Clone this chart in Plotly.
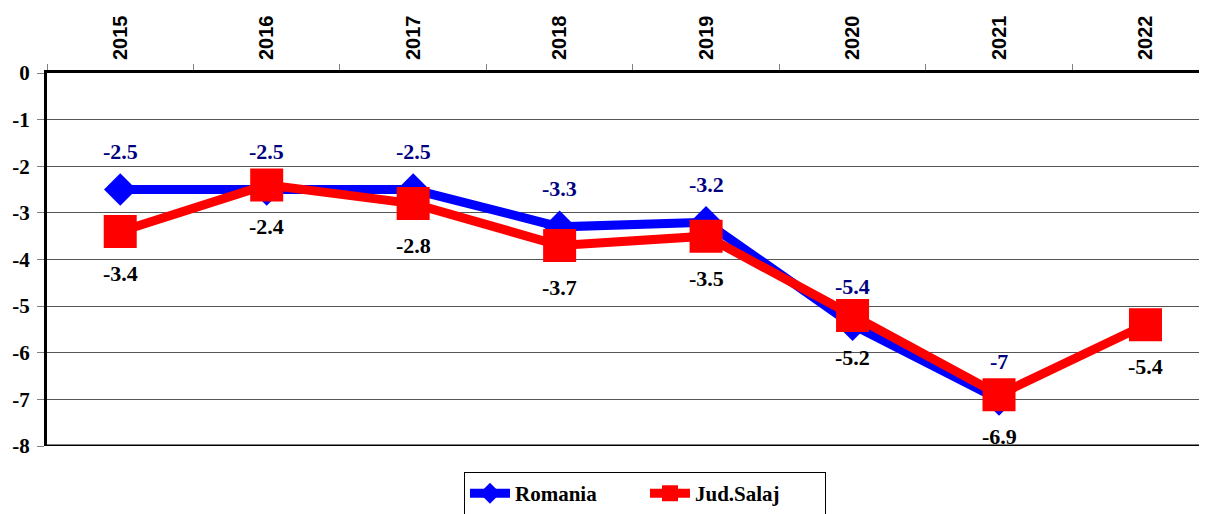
import plotly.graph_objects as go

years = ["2015", "2016", "2017", "2018", "2019", "2020", "2021", "2022"]
romania = [-2.5, -2.5, -2.5, -3.3, -3.2, -5.4, -7, None]
salaj = [-3.4, -2.4, -2.8, -3.7, -3.5, -5.2, -6.9, -5.4]
y_ticks = [0, -1, -2, -3, -4, -5, -6, -7, -8]

SERIF = "Times New Roman, Liberation Serif, serif"
SANS = "Arial, Liberation Sans, sans-serif"

fig = go.Figure()
fig.add_trace(go.Scatter(
    x=years, y=romania, name="<b>Romania</b>", mode="lines+markers",
    line=dict(color="#0000FF", width=9),
    marker=dict(symbol="diamond", size=25, color="#0000FF"),
))
fig.add_trace(go.Scatter(
    x=years, y=salaj, name="<b>Jud.Salaj</b>", mode="lines+markers",
    line=dict(color="#FF0000", width=9),
    marker=dict(symbol="square", size=33, color="#FF0000"),
))

annotations = []
for i, v in enumerate(romania):
    if v is None:
        continue
    annotations.append(dict(x=i, y=v, xref="x", yref="y", text="<b>%g</b>" % v,
                            showarrow=False, yshift=38,
                            font=dict(family=SERIF, size=22, color="#000080")))
for i, v in enumerate(salaj):
    annotations.append(dict(x=i, y=v, xref="x", yref="y", text="<b>%g</b>" % v,
                            showarrow=False, yshift=-42,
                            font=dict(family=SERIF, size=22, color="#000000")))

fig.update_layout(
    width=1199, height=506,
    margin=dict(l=39, r=0, t=65, b=68, autoexpand=False),
    paper_bgcolor="white", plot_bgcolor="white",
    font=dict(family=SERIF, size=20, color="#000000"),
    showlegend=True,
    annotations=annotations,
    shapes=[dict(type="line", xref="paper", x0=0, x1=1, yref="y",
                 y0=min(y_ticks), y1=min(y_ticks),
                 line=dict(color="#000000", width=3), layer="above")],
    legend=dict(
        orientation="h", x=0.5155, xanchor="center", y=-0.07, yanchor="top",
        bordercolor="#000000", borderwidth=1,
        font=dict(family=SERIF, size=21, color="#000000"),
        itemwidth=40, entrywidth=125,
    ),
    xaxis=dict(
        type="category", categoryorder="array", categoryarray=years,
        side="top", range=[-0.5, 7.42], tickson="boundaries",
        ticks="outside", ticklen=6, tickcolor="#808080", tickwidth=1,
        tickangle=-90, tickmode="array", tickvals=years,
        ticktext=["<b>%s</b>" % y for y in years],
        tickfont=dict(family=SANS, size=20, color="#000000"),
        ticklabelstandoff=6,
        showline=True, linecolor="#000000", linewidth=3,
        showgrid=False, zeroline=False, automargin=False,
    ),
    yaxis=dict(
        range=[-8, 0], tickmode="array", tickvals=y_ticks,
        ticktext=["<b>%d</b>" % t for t in y_ticks],
        ticks="outside", ticklen=7, tickcolor="#808080", tickwidth=1,
        tickfont=dict(family=SERIF, size=21, color="#000000"),
        ticklabelstandoff=3,
        showline=True, linecolor="#000000", linewidth=3,
        showgrid=True, gridcolor="#555555", gridwidth=1,
        zeroline=False, automargin=False,
    ),
)

fig.write_html("out.html")
